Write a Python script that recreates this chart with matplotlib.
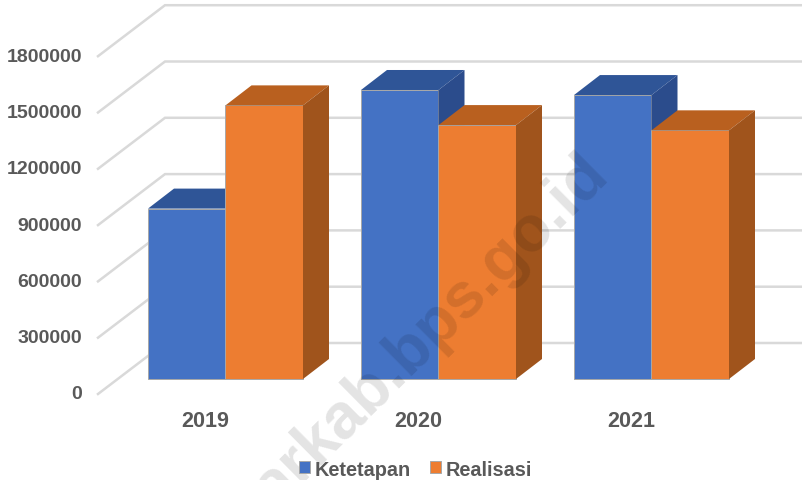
import matplotlib
matplotlib.use("Agg")
import matplotlib.pyplot as plt
from matplotlib.patches import Polygon

years = ["2019", "2020", "2021"]
ketetapan = [908000, 1540000, 1513000]
realisasi = [1458000, 1353000, 1325000]
y_ticks = [0, 300000, 600000, 900000, 1200000, 1500000, 1800000]

W, H = 803, 481
PX_X = 1 / 213  # category units per pixel
PX_Y = 300000 / 56.3  # value units per pixel
BAR_W = 77.5 * PX_X
DEPTH_X = 26 * PX_X
DEPTH_Y = 20 * PX_Y

BLUE = ("#4472C4", "#2F5597", "#2B4C8C")
ORANGE = ("#ED7D31", "#B9601F", "#A0541C")
GRID = "#D9D9D9"
TEXT = "#595959"

plt.rcParams["font.family"] = ["Liberation Sans", "DejaVu Sans"]
plt.rcParams["font.weight"] = "bold"

fig = plt.figure(figsize=(W / 100, H / 100), dpi=100)
ax = fig.add_axes([0, 0, 1, 1])
ax.set_xlim(-225.5 * PX_X, (W - 225.5) * PX_X)
ax.set_ylim(-(H - 380) * PX_Y, 380 * PX_Y)
ax.axis("off")

wall_left = (98 - 225.5) * PX_X
wall_back = (165 - 225.5) * PX_X
wall_right = (W - 225.5) * PX_X
for v in y_ticks:
    front_y = v - 15 * PX_Y
    back_y = v + 36 * PX_Y
    ax.plot([wall_left, wall_back, wall_right], [front_y, back_y, back_y],
            color=GRID, lw=1.8, zorder=1, solid_joinstyle="miter")
    ax.text((82 - 225.5) * PX_X, v - 15 * PX_Y, f"{v}", ha="right", va="center",
            fontsize=14, color=TEXT)


def draw_bar(left, height, shades, label=None):
    face, top, side = shades
    right = left + BAR_W
    bars = ax.bar(left, height, BAR_W, align="edge", color=face, edgecolor="#A8A8A8",
                  linewidth=0.7, zorder=3, label=label)
    ax.add_patch(Polygon([(left, height), (right, height),
                          (right + DEPTH_X, height + DEPTH_Y), (left + DEPTH_X, height + DEPTH_Y)],
                         facecolor=top, edgecolor="none", zorder=3))
    ax.add_patch(Polygon([(right, 0), (right + DEPTH_X, DEPTH_Y),
                          (right + DEPTH_X, height + DEPTH_Y), (right, height)],
                         facecolor=side, edgecolor="none", zorder=3))
    return bars


for i, year in enumerate(years):
    draw_bar(i - BAR_W, ketetapan[i], BLUE, "Ketetapan" if i == 0 else None)
    draw_bar(i, realisasi[i], ORANGE, "Realisasi" if i == 0 else None)
    ax.text(i - 20 * PX_X, -42 * PX_Y, year, ha="center", va="center",
            fontsize=15.5, color=TEXT)

fig.legend(loc="center", bbox_to_anchor=(415.5 / W, 1 - 470 / H), ncol=2, frameon=False,
           fontsize=14.3, labelcolor=TEXT, handlelength=0.55, handleheight=0.55,
           handletextpad=0.2, columnspacing=1.0, borderpad=0)

# watermark runs off the bottom of the picture, same as the source
ax.text(275 / W, 1 - 510 / H, "arkab.bps.go.id", transform=ax.transAxes, rotation=44.7,
        rotation_mode="anchor", ha="left", va="baseline", fontsize=46, color="black",
        alpha=0.11, zorder=6, clip_on=True)

fig.savefig("out.png", dpi=100)
